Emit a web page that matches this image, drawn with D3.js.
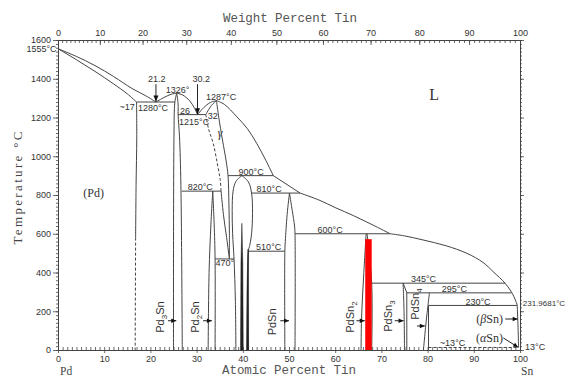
<!DOCTYPE html>
<html>
<head>
<meta charset="utf-8">
<script src="https://cdn.jsdelivr.net/npm/d3@7/dist/d3.min.js"></script>
<style>
  html, body { margin: 0; padding: 0; background: #fff; }
  svg { display: block; }
</style>
</head>
<body>
<svg id="chart" width="571" height="378"></svg>
<script>
// Pd–Sn phase diagram: composition in at.% Sn, temperature in °C

// ---- axis ticks ----
const atomicMajor = d3.range(0, 101, 10);
const atomicMinor = d3.range(0, 101, 1);
const weightMajor = d3.range(0, 101, 10);
const weightMinor = d3.range(0, 101, 1);
const tempMajor = d3.range(0, 1601, 200);
const tempMinor = d3.range(0, 1601, 20);

// ---- liquidus ----
const liquidusPd     = [[0,1555],[4,1515],[8,1468],[12,1412],[16,1350],[19,1312],[21.2,1280]];
const liquidusPd3SnL = [[21.2,1280],[23,1304],[24.5,1320],[25.7,1326]];
const liquidusPd3SnR = [[25.7,1326],[27,1316],[28.5,1286],[29.5,1250],[30.2,1215]];
const liquidusGammaL = [[30.2,1215],[31.5,1250],[33,1278],[34.3,1287]];
const liquidusGammaR = [[34.3,1287],[36,1268],[38.7,1204],[41,1142],[43,1067],[45,978],[46.6,900]];
const liquidusMid    = [[46.6,900],[52.4,810]];
const liquidusPdSn   = [[52.4,810],[56.7,772],[60,735],[64,693],[68,647],[71.9,600]];
const liquidusSn     = [[71.9,600],[75,589],[79,568],[84,538],[88.5,499],[92,452],[94.2,404],[96.8,344],[98.5,284],[99.4,232]];

// ---- solidus / solvus lines ----
const solidusPd    = [[0,1555],[4,1498],[8,1438],[12,1374],[15,1322],[17,1280]];
const solvusPd     = [[17,1280],[17.05,1100],[16.9,850],[16.8,580]];
const solvusPdLow  = [[16.8,580],[16.7,0]];
const pd3SnL       = [[25.7,1326],[25.3,1280],[25.1,1100],[25.0,0]];
const pd3SnR       = [[25.7,1326],[26.0,1270],[26.0,1215],[26.3,1100],[26.6,850],[26.9,0]];
const gammaSolidus = [[32,1215],[33.2,1262],[34.3,1287]];
const gammaLeftHi  = [[32,1215],[32.6,1140],[33.6,1066],[34.5,960],[35.1,880],[35.3,820]];
const gammaLeftLo  = [[35.3,820],[35.8,700],[36.5,580],[37.1,470]];
const gammaRight   = [[34.3,1287],[34.8,1200],[35.6,1084],[36.4,975],[36.8,900],[37.0,750],[37.1,600],[37.1,470]];
const pd2SnL       = [[33.5,820],[33.1,650],[32.7,400],[32.5,0]];
const pd2SnR       = [[33.5,820],[33.8,650],[34.0,470],[34.0,0]];
const pd20Sn13L    = [[39.8,900],[38.5,870],[37.9,820],[37.7,720],[37.8,600],[38.1,470],[38.4,250],[38.5,0]];
const pd20Sn13R    = [[39.8,900],[41.2,868],[41.9,810],[42.1,705],[41.9,600],[41.5,540],[41.2,510],[41.2,0]];
const pdSnL        = [[50.1,810],[49.6,700],[49.2,560],[49.1,510],[49.1,0]];
const pdSnR        = [[50.1,810],[50.7,720],[51.2,640],[51.3,600],[51.3,0]];
const pdSn2L       = [[66.7,600],[66.2,400],[65.7,160],[65.6,0]];
const pdSn2R       = [[66.9,600],[67.9,345],[67.9,0]];
const pdSn3L       = [[74.7,345],[74.9,200],[75.0,0]];
const pdSn3R       = [[74.7,345],[75.5,295],[75.5,0]];
const pdSn4L       = [[80.4,295],[79.7,150],[79.1,0]];
const pdSn4R       = [[80.2,230],[80.2,0]];
const betaSnSolvus = [[99.4,232],[99.6,100],[99.7,13]];

// narrow ordered fields drawn solid
const spikeA = [[39.8,654],[39.6,450],[39.5,0],[40.1,0],[40.0,450]];
const spikeB = [[41.1,520],[40.9,300],[40.8,0],[41.25,0],[41.25,510]];

// ---- invariant reactions ----
const invariantT    = [1280, 1215, 900, 820, 810, 600, 510, 470, 345, 295, 230, 13];
const invariantFrom = [17, 26, 36.8, 26.8, 41.9, 51.3, 41.2, 34, 67.9, 75.5, 80.2, 80.2];
const invariantTo   = [25.3, 32, 46.6, 35.3, 52.4, 71.9, 49.1, 38.1, 96.8, 98.1, 99.4, 99.7];

// highlighted PdSn2 field
const highlightAt = [66.5, 67.9];
const highlightT  = [0, 572];

// ---- temperature / composition notes ----
const notes = [
  ["1555°C", -0.3, 1538, "end"],
  ["~17", 16.6, 1239, "end"],
  ["1280°C", 17.3, 1234, "start"],
  ["21.2", 21.4, 1383, "middle"],
  ["1326°", 25.9, 1326, "middle"],
  ["30.2", 31.0, 1383, "middle"],
  ["26", 26.4, 1218, "start"],
  ["1215°C", 26.2, 1161, "start"],
  ["32", 32.4, 1192, "start"],
  ["1287°C", 35.3, 1290, "middle"],
  ["900°C", 41.8, 903, "middle"],
  ["820°C", 30.8, 826, "middle"],
  ["810°C", 45.7, 815, "middle"],
  ["600°C", 58.9, 604, "middle"],
  ["510°C", 45.6, 516, "middle"],
  ["470°", 36.1, 434, "middle"],
  ["345°C", 79.1, 351, "middle"],
  ["295°C", 85.8, 299, "middle"],
  ["230°C", 90.9, 232, "middle"],
  ["231.9681°C", 100.6, 227, "start"],
  ["~13°C", 85.4, 21, "middle"],
  ["13°C", 101.1, 0, "start"]
];

// compound labels (rotated) and their pointers
const phaseNames  = [["Pd","3","Sn"], ["Pd","2","Sn"], ["PdSn"], ["PdSn","2"], ["PdSn","3"], ["PdSn","4"]];
const phaseAt     = [22.1, 29.7, 46.3, 63.2, 71.4, 77.3];
const phaseT      = [170, 170, 145, 170, 175, 237];
const pointerFrom = [23.8, 31.4, 48.1, 64.6, 72.9, 77.7];
const pointerTo   = [25.6, 33.3, 50.0, 66.4, 74.8, 79.4];
const pointerT    = [151, 151, 151, 151, 151, 124];

// ---- scales ----
const x = d3.scaleLinear().domain([0, 100]).range([58, 520]);
const y = d3.scaleLinear().domain([0, 1600]).range([350, 40]);
const wtToAt = w => { const a = w / 118.71, b = (100 - w) / 106.42; return 100 * a / (a + b); };

const ink = "#444";
const textInk = "#333";
const sans = "'Liberation Sans', Arial, sans-serif";
const serif = "'Liberation Serif', 'Times New Roman', serif";
const mono = "'Liberation Mono', 'Courier New', monospace";

const svg = d3.select("#chart");

function styleAxis(g) {
  g.attr("font-family", sans).attr("font-size", 9);
  g.select(".domain").attr("stroke", ink).attr("stroke-width", 1);
  g.selectAll(".tick line").attr("stroke", ink).attr("stroke-width", 0.8);
  g.selectAll(".tick text").attr("fill", textInk);
}

// bottom axis (atomic percent)
svg.append("g").attr("transform", `translate(0,${y(0)})`)
  .call(d3.axisBottom(x).tickValues(atomicMinor).tickSizeInner(-3).tickSizeOuter(0).tickFormat(""))
  .call(styleAxis);
svg.append("g").attr("transform", `translate(0,${y(0)})`)
  .call(d3.axisBottom(x).tickValues(atomicMajor).tickSizeInner(3).tickSizeOuter(0).tickPadding(2.5).tickFormat(d3.format("d")))
  .call(styleAxis);

// top axis (weight percent)
svg.append("g").attr("transform", `translate(0,${y(1600)})`)
  .call(d3.axisTop(x).tickValues(weightMinor.map(wtToAt)).tickSizeInner(-3).tickSizeOuter(0).tickFormat(""))
  .call(styleAxis);
svg.append("g").attr("transform", `translate(0,${y(1600)})`)
  .call(d3.axisTop(x).tickValues(weightMajor.map(wtToAt)).tickSizeInner(-5).tickSizeOuter(0).tickPadding(4.5)
    .tickFormat((d, i) => weightMajor[i]))
  .call(styleAxis);

// left axis (temperature)
svg.append("g").attr("transform", `translate(${x(0)},0)`)
  .call(d3.axisLeft(y).tickValues(tempMinor).tickSizeInner(2).tickSizeOuter(0).tickFormat(""))
  .call(styleAxis);
svg.append("g").attr("transform", `translate(${x(0)},0)`)
  .call(d3.axisLeft(y).tickValues(tempMajor).tickSizeInner(5).tickSizeOuter(0).tickPadding(2).tickFormat(d3.format("d")))
  .call(styleAxis);

// right axis (ticks only)
svg.append("g").attr("transform", `translate(${x(100)},0)`)
  .call(d3.axisRight(y).tickValues(tempMinor).tickSizeInner(2).tickSizeOuter(0).tickFormat(""))
  .call(styleAxis);
svg.append("g").attr("transform", `translate(${x(100)},0)`)
  .call(d3.axisRight(y).tickValues(tempMajor).tickSizeInner(4).tickSizeOuter(0).tickFormat(""))
  .call(styleAxis);

// axis titles
svg.append("text").attr("x", 290).attr("y", 21.5).attr("text-anchor", "middle")
  .attr("font-family", mono).attr("font-size", 12.5).attr("fill", "#555")
  .attr("textLength", 134).attr("lengthAdjust", "spacing").text("Weight Percent Tin");
svg.append("text").attr("x", 289).attr("y", 374).attr("text-anchor", "middle")
  .attr("font-family", mono).attr("font-size", 12.5).attr("fill", "#555")
  .attr("textLength", 134).attr("lengthAdjust", "spacing").text("Atomic Percent Tin");
svg.append("text").attr("transform", "translate(21.5,188) rotate(-90)").attr("text-anchor", "middle")
  .attr("font-family", serif).attr("font-size", 13).attr("fill", "#444")
  .attr("textLength", 113).attr("lengthAdjust", "spacing").text("Temperature °C");
svg.append("text").attr("x", 60).attr("y", 375).attr("font-family", serif).attr("font-size", 11.5)
  .attr("fill", "#444").text("Pd");
svg.append("text").attr("x", 521).attr("y", 375).attr("font-family", serif).attr("font-size", 11.5)
  .attr("fill", "#444").text("Sn");

// ---- phase boundaries ----
const smooth = d3.line().x(d => x(d[0])).y(d => y(d[1])).curve(d3.curveCatmullRom.alpha(0.5));
const straight = d3.line().x(d => x(d[0])).y(d => y(d[1]));

const solidCurves = [
  liquidusPd, liquidusPd3SnL, liquidusPd3SnR, liquidusGammaL, liquidusGammaR, liquidusMid,
  liquidusPdSn, liquidusSn, solidusPd, solvusPd, pd3SnL, pd3SnR, gammaSolidus, gammaLeftLo,
  gammaRight, pd2SnL, pd2SnR, pd20Sn13L, pd20Sn13R, pdSnL, pdSnR, pdSn2L, pdSn2R,
  pdSn3L, pdSn4L, pdSn4R, betaSnSolvus
];
const dashedCurves = [solvusPdLow, gammaLeftHi];

const bounds = svg.append("g").attr("fill", "none").attr("stroke", ink).attr("stroke-width", 1);
bounds.selectAll("path.solid").data(solidCurves).join("path").attr("class", "solid").attr("d", smooth);
bounds.append("path").datum(pdSn3R).attr("d", straight);
bounds.selectAll("path.dashed").data(dashedCurves).join("path").attr("class", "dashed")
  .attr("stroke-dasharray", "3,2").attr("d", smooth);

// invariant isotherms
bounds.selectAll("line.iso").data(invariantT).join("line").attr("class", "iso")
  .attr("x1", (t, i) => x(invariantFrom[i])).attr("x2", (t, i) => x(invariantTo[i]))
  .attr("y1", t => y(t)).attr("y2", t => y(t))
  .attr("stroke-dasharray", t => t === 13 ? "3,2" : null);

// thin ordered fields
svg.append("g").attr("fill", "#222").attr("stroke", "#222").attr("stroke-width", 0.5)
  .selectAll("path").data([spikeA, spikeB]).join("path")
  .attr("d", d => straight(d) + "Z");

// highlighted PdSn2 field
svg.append("rect")
  .attr("x", x(highlightAt[0])).attr("width", x(highlightAt[1]) - x(highlightAt[0]))
  .attr("y", y(highlightT[1])).attr("height", y(highlightT[0]) - y(highlightT[1]))
  .attr("fill", "#ff0000");

// ---- arrows ----
const arrows = svg.append("g");
function arrow(x1, y1, x2, y2, len = 5, half = 2.2) {
  const a = Math.atan2(y2 - y1, x2 - x1);
  arrows.append("line").attr("x1", x1).attr("y1", y1).attr("x2", x2).attr("y2", y2)
    .attr("stroke", "#222").attr("stroke-width", 1);
  const bx = x2 - len * Math.cos(a), by = y2 - len * Math.sin(a);
  const px = -Math.sin(a) * half, py = Math.cos(a) * half;
  arrows.append("path")
    .attr("d", `M${x2},${y2}L${bx + px},${by + py}L${bx - px},${by - py}Z`)
    .attr("fill", "#111");
}
arrow(x(21.2), y(1372), x(21.2), y(1282), 6, 2.5);
arrow(x(30.2), y(1372), x(30.2), y(1217), 6, 2.5);
phaseNames.forEach((n, i) => arrow(x(pointerFrom[i]), y(pointerT[i]), x(pointerTo[i]), y(pointerT[i]), 5, 2.2));
arrow(x(96.8), y(160), x(99.5), y(160), 5, 2.2);
arrow(x(96.4), y(62), x(99.6), y(14), 5, 2.2);

// ---- text notes ----
svg.append("g").attr("font-family", sans).attr("fill", textInk)
  .selectAll("text").data(notes).join("text")
  .attr("x", d => x(d[1])).attr("y", d => y(d[2]))
  .attr("text-anchor", d => d[3])
  .attr("font-size", d => d[0].length > 7 ? 8 : 9)
  .text(d => d[0]);

// region labels
svg.append("text").attr("x", x(81.4)).attr("y", y(1290)).attr("text-anchor", "middle")
  .attr("font-family", serif).attr("font-size", 16).attr("fill", textInk).text("L");
svg.append("text").attr("x", x(7.7)).attr("y", y(790)).attr("text-anchor", "middle")
  .attr("font-family", serif).attr("font-size", 12).attr("fill", textInk).text("(Pd)");
svg.append("text").attr("x", x(35.1)).attr("y", y(1099)).attr("text-anchor", "middle")
  .attr("font-family", serif).attr("font-style", "italic").attr("font-size", 12).attr("fill", textInk).text("γ");

function tinLabel(greek, at, T) {
  const t = svg.append("text").attr("x", x(at)).attr("y", y(T)).attr("text-anchor", "end")
    .attr("font-family", serif).attr("font-size", 12).attr("fill", textInk);
  t.append("tspan").text("(");
  t.append("tspan").attr("font-style", "italic").text(greek);
  t.append("tspan").text("Sn)");
}
tinLabel("β", 96.3, 139);
tinLabel("α", 96.3, 41);

// rotated compound names with subscripts
phaseNames.forEach((parts, i) => {
  const t = svg.append("text")
    .attr("transform", `translate(${x(phaseAt[i])},${y(phaseT[i])}) rotate(-90)`)
    .attr("text-anchor", "middle").attr("dy", "0.35em")
    .attr("font-family", sans).attr("font-size", 11).attr("fill", textInk);
  parts.forEach((p, k) => {
    const sub = k === 1;
    const ts = t.append("tspan").text(p);
    if (sub) ts.attr("font-size", 8).attr("dy", 3);
    else if (k === 2) ts.attr("dy", -3);
  });
});
</script>
</body>
</html>
